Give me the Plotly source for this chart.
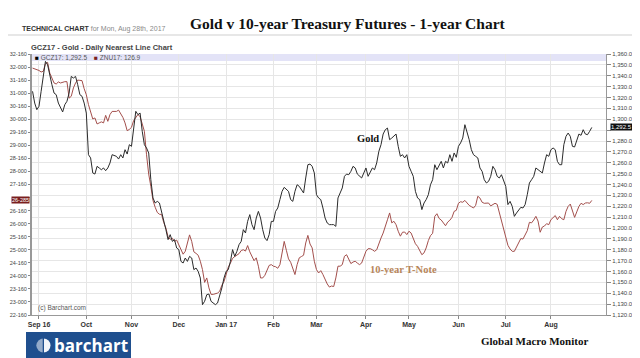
import pandas as pd
import plotly.graph_objects as go

# ---- data (daily closes, trading days from 2016-08-29 to 2017-08-28) ----
start_session = "2016-08-29"

gold = [
    1325.7, 1314.9, 1308.8, 1311.9, 1325.7, 1341.0, 1353.2, 1350.2, 1339.4, 1331.8,
    1324.1, 1322.6, 1314.9, 1310.3, 1306.7, 1313.4, 1316.5, 1324.1, 1339.4, 1337.9,
    1339.4, 1331.8, 1322.6, 1321.1, 1314.9, 1305.7, 1267.4, 1264.4, 1250.6, 1249.6,
    1256.7, 1255.2, 1253.6, 1255.2, 1252.7, 1255.2, 1259.8, 1267.4, 1266.8, 1265.9,
    1263.4, 1267.4, 1264.4, 1272.0, 1268.0, 1276.6, 1275.1, 1291.9, 1307.3, 1304.2,
    1305.7, 1288.9, 1276.6, 1273.6, 1269.0, 1244.4, 1227.6, 1223.0, 1224.5, 1223.0,
    1215.3, 1206.1, 1198.5, 1189.3, 1193.9, 1187.7, 1189.3, 1181.6, 1180.1, 1169.3,
    1167.8, 1172.4, 1169.3, 1173.9, 1172.4, 1161.7, 1163.2, 1160.1, 1154.0, 1129.5,
    1132.6, 1138.7, 1139.3, 1132.6, 1131.0, 1129.5, 1131.0, 1137.2, 1144.8, 1154.0,
    1160.1, 1161.7, 1169.3, 1180.1, 1173.9, 1178.5, 1184.7, 1187.7, 1198.5, 1195.4,
    1206.1, 1212.3, 1203.1, 1198.5, 1209.2, 1215.3, 1209.2, 1198.5, 1190.8, 1188.4,
    1193.9, 1206.1, 1206.1, 1215.3, 1218.4, 1226.1, 1233.7, 1237.4, 1235.2, 1233.7,
    1226.1, 1224.5, 1233.7, 1239.8, 1238.3, 1235.2, 1232.2, 1246.0, 1258.2, 1258.8,
    1256.7, 1250.6, 1230.6, 1227.6, 1226.1, 1218.4, 1209.2, 1204.6, 1203.1, 1203.1,
    1203.1, 1201.5, 1227.6, 1232.2, 1236.8, 1247.5, 1249.6, 1249.0, 1252.1, 1256.7,
    1255.2, 1249.6, 1247.5, 1246.0, 1250.6, 1255.2, 1247.5, 1252.1, 1255.2, 1253.6,
    1259.8, 1270.5, 1276.6, 1286.4, 1290.4, 1291.9, 1281.2, 1282.7, 1284.3, 1286.4,
    1275.1, 1265.9, 1267.4, 1264.4, 1267.4, 1256.7, 1252.1, 1247.5, 1233.7, 1227.6,
    1226.1, 1216.9, 1223.0, 1226.1, 1230.6, 1239.8, 1244.4, 1258.2, 1253.6, 1258.2,
    1261.3, 1255.2, 1261.3, 1259.8, 1267.4, 1261.3, 1269.0, 1265.0, 1275.1, 1278.2,
    1282.7, 1295.0, 1288.9, 1281.2, 1272.0, 1267.4, 1265.9, 1264.4, 1255.2, 1252.1,
    1244.4, 1241.4, 1242.9, 1247.5, 1256.7, 1253.6, 1247.5, 1246.0, 1249.0, 1244.4,
    1238.3, 1221.5, 1224.5, 1219.9, 1210.7, 1213.8, 1216.9, 1219.0, 1218.4, 1221.5,
    1230.6, 1241.4, 1244.4, 1247.5, 1255.2, 1253.6, 1252.1, 1250.6, 1259.8, 1267.4,
    1265.9, 1272.0, 1273.6, 1272.0, 1261.3, 1258.2, 1258.2, 1276.6, 1284.3, 1287.3,
    1284.3, 1275.1, 1274.5, 1279.7, 1286.4, 1285.2, 1290.4, 1286.4, 1285.8, 1288.9,
    1292.5,
]

tnote = [
    131.96, 131.94, 131.90, 131.87, 131.81, 131.84, 132.13, 132.18, 131.77, 131.54,
    131.39, 131.35, 131.43, 131.39, 131.43, 131.44, 131.44, 130.81, 130.88, 131.20,
    131.39, 131.50, 131.49, 131.48, 131.17, 130.94, 130.56, 130.23, 130.01, 130.05,
    129.82, 129.86, 129.90, 129.86, 130.15, 129.92, 130.18, 130.30, 130.30, 130.30,
    130.35, 130.23, 130.07, 129.86, 129.56, 129.61, 129.69, 129.95, 130.06, 130.18,
    130.10, 129.79, 129.54, 128.64, 127.90, 127.43, 126.89, 126.63, 126.43, 126.36,
    126.35, 126.04, 125.83, 125.50, 125.40, 125.44, 125.32, 125.37, 125.20, 124.97,
    124.83, 124.94, 125.26, 125.57, 125.32, 124.92, 124.86, 124.79, 124.56, 124.24,
    123.75, 123.92, 123.54, 123.29, 123.29, 123.31, 123.34, 123.41, 123.64, 123.78,
    124.09, 124.33, 124.49, 124.67, 124.74, 124.79, 124.85, 124.97, 125.00, 124.95,
    125.16, 124.92, 124.72, 124.58, 124.69, 124.37, 123.92, 123.92, 124.02, 124.20,
    124.40, 124.43, 124.37, 124.35, 124.29, 124.43, 124.84, 125.32, 124.98, 124.65,
    124.52, 124.24, 124.05, 124.43, 124.69, 124.74, 124.79, 125.26, 125.55, 125.22,
    125.07, 124.56, 124.24, 124.11, 124.20, 124.05, 123.86, 123.69, 123.57, 123.61,
    123.59, 123.92, 124.37, 124.37, 124.43, 124.75, 124.81, 124.61, 124.47, 124.53,
    124.56, 124.49, 124.43, 124.49, 124.74, 124.94, 125.04, 125.04, 125.00, 124.94,
    125.00, 125.26, 125.45, 125.64, 125.95, 126.15, 126.41, 126.03, 126.09, 125.96,
    125.71, 125.52, 125.67, 125.68, 125.58, 125.71, 125.64, 125.39, 125.23, 125.13,
    124.98, 124.81, 124.88, 125.07, 125.35, 125.54, 125.63, 126.28, 126.38, 126.20,
    126.14, 126.03, 125.92, 126.06, 126.13, 126.24, 126.47, 126.51, 126.78, 126.84,
    126.82, 126.89, 126.77, 126.70, 126.65, 126.60, 126.70, 127.05, 126.98, 126.82,
    126.78, 126.79, 126.79, 126.68, 126.73, 126.78, 126.74, 126.41, 126.09, 125.77,
    125.49, 125.17, 125.03, 124.94, 124.94, 125.09, 125.27, 125.43, 125.41, 125.60,
    125.73, 126.05, 126.03, 126.14, 126.28, 126.10, 125.67, 125.87, 125.91, 126.00,
    125.96, 126.15, 126.22, 126.31, 126.15, 126.28, 126.19, 126.15, 126.47, 126.66,
    126.75, 126.47, 126.24, 126.45, 126.66, 126.78, 126.73, 126.79, 126.80, 126.78,
    126.89,
]

month_ticks = ["2016-09-01", "2016-10-03", "2016-11-01", "2016-12-01", "2017-01-02",
               "2017-02-01", "2017-03-01", "2017-04-03", "2017-05-01", "2017-06-01",
               "2017-07-03", "2017-08-01"]
month_labels = ["Sep 16", "Oct", "Nov", "Dec", "Jan 17", "Feb", "Mar", "Apr", "May",
                "Jun", "Jul", "Aug"]

# left axis (10-yr T-Note, points-32nds); label at 127-000 is hidden under the last-price flag
note_tick_vals = [132.5, 132.0, 131.5, 131.0, 130.5, 130.0, 129.5, 129.0, 128.5, 128.0,
                  127.5, 127.0, 126.5, 126.0, 125.5, 125.0, 124.5, 124.0, 123.5, 123.0, 122.5]
note_tick_text = ["32-160", "32-000", "31-160", "31-000", "30-160", "30-000", "29-160",
                  "29-000", "28-160", "28-000", "27-160", "", "26-160", "26-000",
                  "25-160", "25-000", "24-160", "24-000", "23-160", "23-000", "22-160"]

# right axis (gold); label at 1,290.0 is hidden under the last-price flag
gold_tick_vals = [1360, 1350, 1340, 1330, 1320, 1310, 1300, 1290, 1280, 1270, 1260, 1250,
                  1240, 1230, 1220, 1210, 1200, 1190, 1180, 1170, 1160, 1150, 1140, 1130, 1120]
gold_tick_text = ["1,360.0", "1,350.0", "1,340.0", "1,330.0", "1,320.0", "1,310.0", "1,300.0",
                  "", "1,280.0", "1,270.0", "1,260.0", "1,250.0", "1,240.0", "1,230.0",
                  "1,220.0", "1,210.0", "1,200.0", "1,190.0", "1,180.0", "1,170.0", "1,160.0",
                  "1,150.0", "1,140.0", "1,130.0", "1,120.0"]

gold_last_label = "1,292.5"
note_last_label = "26-285"

dates = pd.bdate_range(start=start_session, periods=len(gold))

GOLD_C = "#2b2b2b"
NOTE_C = "#a34f4c"
SANS = "Liberation Sans, Arial, sans-serif"
SERIF = "Liberation Serif, Times New Roman, serif"

L, R, T, B = 24, 42, 46, 51
PW = 640 - L - R
PH = 358 - T - B


def px(xpix):
    return (xpix - L) / PW


def py(ypix):
    return (358 - B - ypix) / PH


fig = go.Figure()
fig.add_trace(go.Scatter(x=dates, y=tnote, mode="lines", yaxis="y",
                         line=dict(color=NOTE_C, width=1), name="ZNU17"))
fig.add_trace(go.Scatter(x=dates, y=gold, mode="lines", yaxis="y2",
                         line=dict(color=GOLD_C, width=1), name="GCZ17"))

fig.update_layout(
    width=640, height=358, autosize=False,
    margin=dict(l=L, r=R, t=T, b=B),
    paper_bgcolor="white", plot_bgcolor="white",
    showlegend=False,
    font=dict(family=SANS, color="#444"),
    xaxis=dict(
        type="date", automargin=False,
        rangebreaks=[dict(bounds=["sat", "mon"])],
        range=["2016-08-26 18:00", "2017-09-05 14:24"],
        tickvals=month_ticks, ticktext=month_labels,
        tickfont=dict(size=7, color="#333", weight="bold"),
        showgrid=True, gridcolor="#e6e6e6", gridwidth=1,
        ticks="outside", ticklen=3, tickcolor="#888",
        showline=True, linecolor="#999", linewidth=1,
        zeroline=False,
    ),
    yaxis=dict(
        automargin=False,
        range=[122.5, 132.5],
        tickvals=note_tick_vals, ticktext=note_tick_text,
        tickfont=dict(size=5.5, color="#444"),
        ticks="outside", ticklen=2, tickcolor="#888",
        showline=True, linecolor="#999", linewidth=2,
        showgrid=False, zeroline=False,
    ),
    yaxis2=dict(
        automargin=False,
        range=[1120, 1360], tickvals=gold_tick_vals, ticktext=gold_tick_text,
        overlaying="y", side="right",
        tickfont=dict(size=6, color="#444"),
        ticks="outside", ticklen=4, tickcolor="#888",
        showline=True, linecolor="#999", linewidth=1,
        showgrid=True, gridcolor="#e6e6e6", gridwidth=1, zeroline=False,
    ),
)

shapes = [
    # legend band across top of plot
    dict(type="rect", xref="paper", yref="paper", x0=0, x1=1, y0=py(53), y1=1.0,
         fillcolor="#e3e3f7", line=dict(width=0), layer="below"),
    # header separator line
    dict(type="line", xref="paper", yref="paper", x0=px(0), x1=px(640),
         y0=py(27), y1=py(27), line=dict(color="#cfcfcf", width=1)),
    # barchart logo box
    dict(type="rect", xref="paper", yref="paper", x0=px(18), x1=px(123),
         y0=py(351), y1=py(324), fillcolor="#1f4f8e", line=dict(width=0)),
    dict(type="circle", xref="paper", yref="paper", x0=px(28.5), x1=px(42.5),
         y0=py(344.5), y1=py(330.5), fillcolor="#f2f5fa", line=dict(width=0)),
    dict(type="rect", xref="paper", yref="paper", x0=px(28.5), x1=px(34.5),
         y0=py(344.5), y1=py(330.5), fillcolor="rgba(31,79,142,0.45)", line=dict(width=0)),
    dict(type="rect", xref="paper", yref="paper", x0=px(34.5), x1=px(36),
         y0=py(345), y1=py(330), fillcolor="#1f4f8e", line=dict(width=0)),
]
fig.update_layout(shapes=shapes)

ann = [
    dict(text="<b>Gold v 10-year Treasury Futures - 1-year Chart</b>", xref="paper", yref="paper",
         x=px(340), y=py(16), xanchor="center", yanchor="middle", showarrow=False,
         font=dict(family=SERIF, size=15.5, color="#111")),
    dict(text="<b>TECHNICAL CHART</b> <span style='color:#8a8a8a'>for Mon, Aug 28th, 2017</span>",
         xref="paper", yref="paper", x=px(12), y=py(21), xanchor="left", yanchor="middle",
         showarrow=False, font=dict(family=SANS, size=7, color="#333")),
    dict(text="<b>GCZ17 - Gold - Daily Nearest Line Chart</b>", xref="paper", yref="paper",
         x=px(21), y=py(39.5), xanchor="left", yanchor="middle", showarrow=False,
         font=dict(family=SANS, size=7.5, color="#444")),
    dict(text="<span style='color:#000'>■</span> GCZ17: 1,292.5", xref="paper", yref="paper",
         x=px(25), y=py(49.5), xanchor="left", yanchor="middle", showarrow=False,
         font=dict(family=SANS, size=6.5, color="#555")),
    dict(text="<span style='color:#7a1f1f'>■</span> ZNU17: 126.9", xref="paper", yref="paper",
         x=px(84), y=py(49.5), xanchor="left", yanchor="middle", showarrow=False,
         font=dict(family=SANS, size=6.5, color="#555")),
    dict(text="<b>Gold</b>", xref="paper", yref="paper", x=px(360), y=py(130),
         xanchor="center", yanchor="middle", showarrow=False,
         font=dict(family=SERIF, size=10.5, color="#111")),
    dict(text="<b>10-year T-Note</b>", xref="paper", yref="paper", x=px(395), y=py(261),
         xanchor="center", yanchor="middle", showarrow=False,
         font=dict(family=SERIF, size=10.5, color="#b8865b")),
    dict(text="(c) Barchart.com", xref="paper", yref="paper", x=px(28), y=py(300),
         xanchor="left", yanchor="middle", showarrow=False,
         font=dict(family=SANS, size=6.5, color="#555")),
    dict(text=note_last_label, xref="paper", yref="y", x=0, y=tnote[-1], xshift=-2,
         xanchor="right", yanchor="middle", showarrow=False, bgcolor="#7a1f1f",
         borderpad=0, font=dict(family=SANS, size=5.5, color="white")),
    dict(text=gold_last_label, xref="paper", yref="y2", x=1, y=gold[-1], xshift=4,
         xanchor="left", yanchor="middle", showarrow=False, bgcolor="#111",
         borderpad=0, font=dict(family=SANS, size=6, color="white")),
    dict(text="<b>barchart</b>", xref="paper", yref="paper", x=px(83), y=py(337.5),
         xanchor="center", yanchor="middle", showarrow=False,
         font=dict(family="Open Sans, Roboto, sans-serif", size=17, color="white")),
    dict(text="<b>Global Macro Monitor</b>", xref="paper", yref="paper", x=px(526), y=py(333),
         xanchor="center", yanchor="middle", showarrow=False,
         font=dict(family=SERIF, size=11, color="#111")),
]
fig.update_layout(annotations=ann)

fig.write_html("out.html")
